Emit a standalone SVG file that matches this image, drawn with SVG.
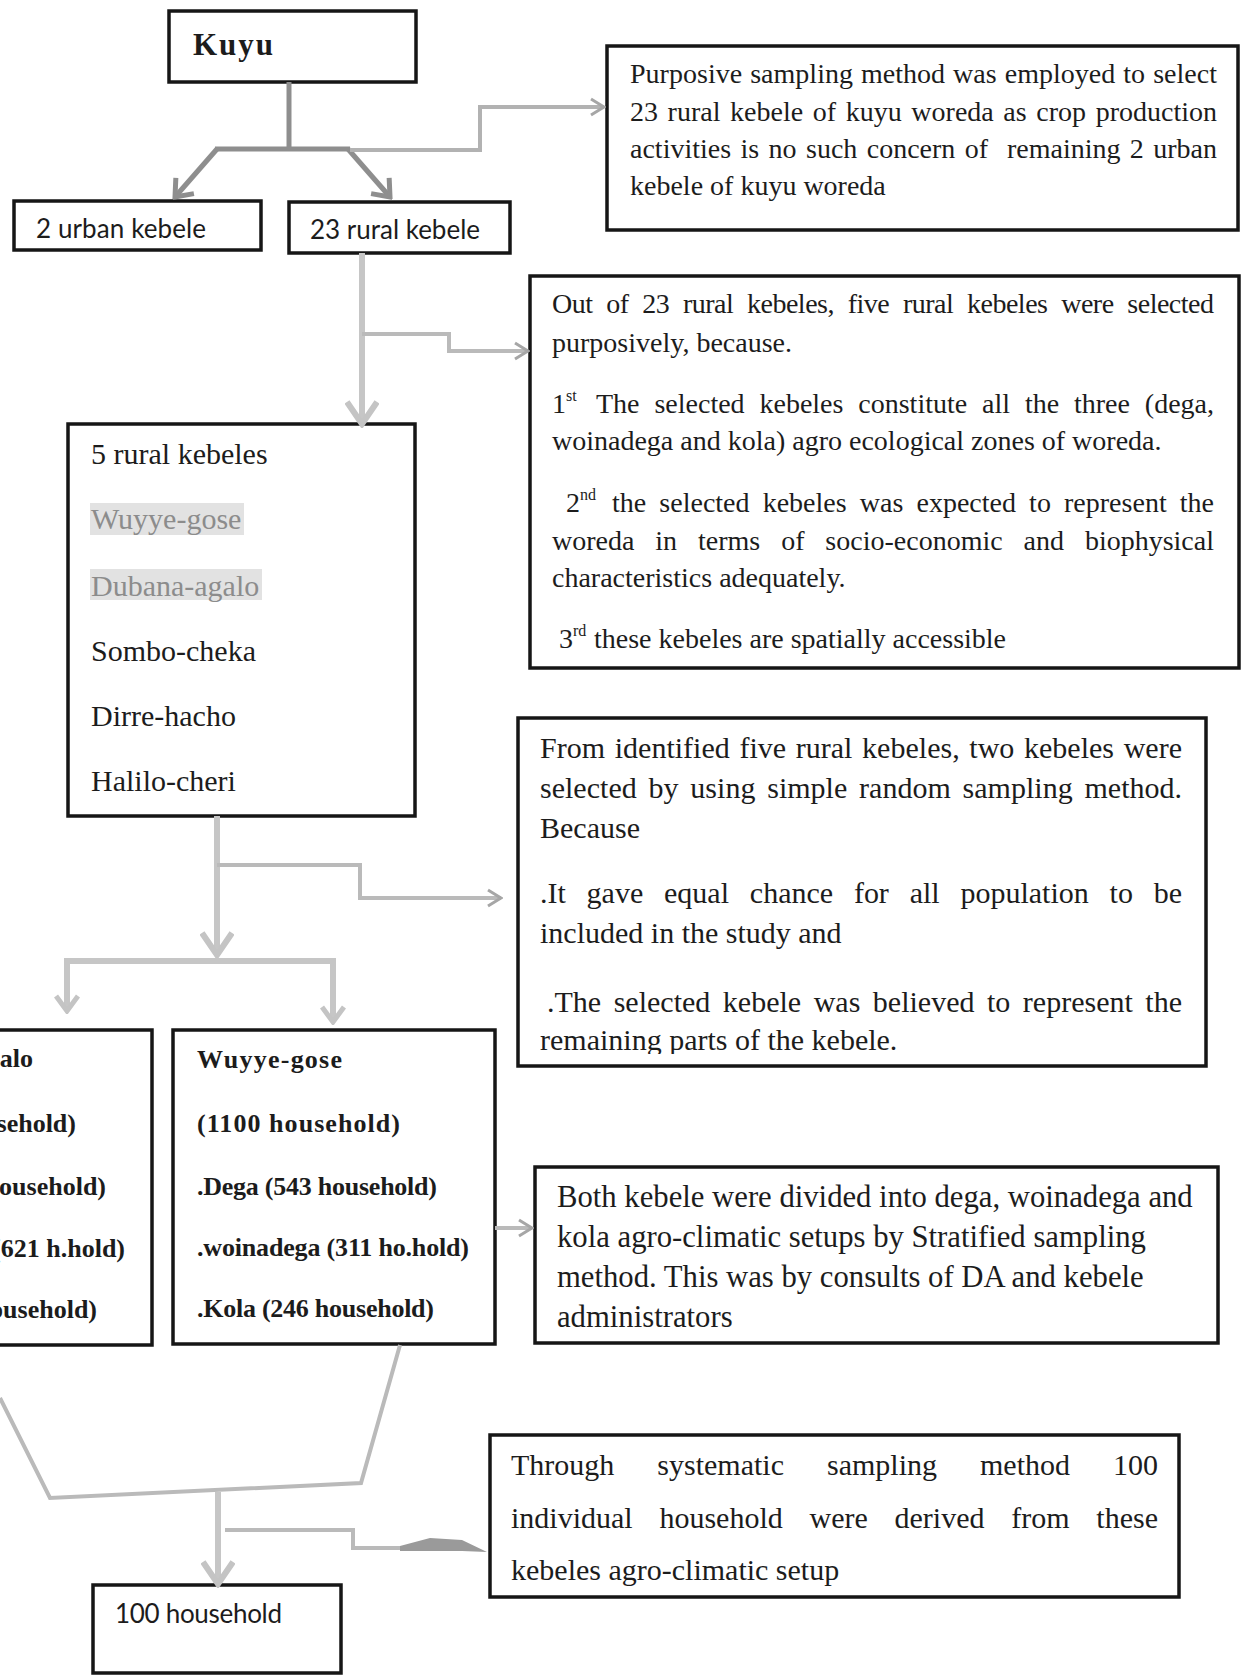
<svg xmlns="http://www.w3.org/2000/svg" width="1243" height="1678" viewBox="0 0 1243 1678">
<defs>
<style>
.box{fill:#fff;stroke:#161616;stroke-width:3.5}
.t{font-family:"Liberation Serif","Times New Roman",serif;fill:#1c1c1c}
.s28{font-size:28px}
.s30{font-size:30px}
.s307{font-size:30.7px}
.bd{font-weight:bold;font-size:26px}
.sans{font-family:Lato,"Liberation Sans",sans-serif;font-size:26px;fill:#1c1c1c}
.sup{font-size:16px}
.grey{fill:#8c8c8c}
.hl{fill:#e2e2e2}
.cd{fill:none;stroke:#8e8e8e;stroke-width:5}
.cm{fill:none;stroke:#b2b2b2;stroke-width:4}
.cl{fill:none;stroke:#c6c6c6;stroke-width:6}
.cs{fill:none;stroke:#bababa;stroke-width:4}
</style>
<marker id="chevL" viewBox="0 0 34 34" markerWidth="34" markerHeight="34" refX="30" refY="17" orient="auto" markerUnits="userSpaceOnUse">
<path d="M8,2 L30,17 L8,32" fill="none" stroke="#c4c4c4" stroke-width="6"/>
</marker>
<marker id="chevM" viewBox="0 0 24 26" markerWidth="24" markerHeight="26" refX="21" refY="13" orient="auto" markerUnits="userSpaceOnUse">
<path d="M6,2 L21,13 L6,24" fill="none" stroke="#c4c4c4" stroke-width="5"/>
</marker>
<marker id="chevS" viewBox="0 0 18 20" markerWidth="18" markerHeight="20" refX="16" refY="10" orient="auto" markerUnits="userSpaceOnUse">
<path d="M3,2 L16,10 L3,18" fill="none" stroke="#a6a6a6" stroke-width="3"/>
</marker>
<marker id="chevD" viewBox="0 0 22 28" markerWidth="22" markerHeight="28" refX="19" refY="14" orient="auto" markerUnits="userSpaceOnUse">
<path d="M4,2 L19,14 L4,26" fill="none" stroke="#8e8e8e" stroke-width="5"/>
</marker>
<clipPath id="clipFrom"><rect x="520" y="720" width="684" height="334"/></clipPath>
</defs>

<rect width="1243" height="1678" fill="#fff"/>

<g id="node-kuyu">
<rect class="box" x="169" y="11" width="247" height="71"/>
<text class="t" x="193" y="55" font-size="31" font-weight="bold" letter-spacing="2">Kuyu</text>
</g>

<g id="node-urban">
<rect class="box" x="14" y="201" width="247" height="49"/>
<text class="sans" x="36" y="238" textLength="170">2 urban kebele</text>
</g>

<g id="node-rural23">
<rect class="box" x="289" y="202" width="221" height="51"/>
<text class="sans" x="310" y="239" textLength="170">23 rural kebele</text>
</g>

<g id="node-purposive">
<rect class="box" x="607" y="46" width="631" height="184"/>
<text class="t s28" x="630" y="83" word-spacing="1" textLength="587">Purposive sampling method was employed to select</text>
<text class="t s28" x="630" y="121" word-spacing="2.6" textLength="587">23 rural kebele of kuyu woreda as crop production</text>
<text class="t s28" x="630" y="158" word-spacing="2.4" textLength="587" xml:space="preserve">activities is no such concern of  remaining 2 urban</text>
<text class="t s28" x="630" y="195">kebele of kuyu woreda</text>
</g>

<g id="node-outof23">
<rect class="box" x="530" y="276" width="709" height="392"/>
<text class="t s28" x="552" y="313" word-spacing="7.2" textLength="662">Out of 23 rural kebeles, five rural kebeles were selected</text>
<text class="t s28" x="552" y="352">purposively, because.</text>
<text class="t s28" x="552" y="413">1</text>
<text class="t sup" x="566" y="401">st</text>
<text class="t s28" x="596" y="413" word-spacing="7.9" textLength="618">The selected kebeles constitute all the three (dega,</text>
<text class="t s28" x="552" y="450">woinadega and kola) agro ecological zones of woreda.</text>
<text class="t s28" x="566" y="512">2</text>
<text class="t sup" x="580" y="500">nd</text>
<text class="t s28" x="612" y="512" word-spacing="6.1" textLength="602">the selected kebeles was expected to represent the</text>
<text class="t s28" x="552" y="550" word-spacing="13.9" textLength="662">woreda in terms of socio-economic and biophysical</text>
<text class="t s28" x="552" y="587">characteristics adequately.</text>
<text class="t s28" x="559" y="648">3</text>
<text class="t sup" x="573" y="636">rd</text>
<text class="t s28" x="594" y="648">these kebeles are spatially accessible</text>
</g>

<g id="node-rural5">
<rect class="box" x="68" y="424" width="347" height="392"/>
<rect class="hl" x="90" y="503" width="154" height="32"/>
<rect class="hl" x="90" y="569" width="172" height="31"/>
<text class="t s30" x="91" y="464">5 rural kebeles</text>
<text class="t s30 grey" x="91" y="529">Wuyye-gose</text>
<text class="t s30 grey" x="91" y="596">Dubana-agalo</text>
<text class="t s30" x="91" y="661">Sombo-cheka</text>
<text class="t s30" x="91" y="726">Dirre-hacho</text>
<text class="t s30" x="91" y="791">Halilo-cheri</text>
</g>

<g id="node-from">
<rect class="box" x="518" y="718" width="688" height="348"/>
<g clip-path="url(#clipFrom)">
<text class="t s30" x="540" y="758" word-spacing="2.1" textLength="642">From identified five rural kebeles, two kebeles were</text>
<text class="t s30" x="540" y="798" word-spacing="4.3" textLength="642">selected by using simple random sampling method.</text>
<text class="t s30" x="540" y="838">Because</text>
<text class="t s30" x="540" y="903" word-spacing="13.3" textLength="642">.It gave equal chance for all population to be</text>
<text class="t s30" x="540" y="943">included in the study and</text>
<text class="t s30" x="547" y="1012" word-spacing="5" textLength="635">.The selected kebele was believed to represent the</text>
<text class="t s30" x="540" y="1050">remaining parts of the kebele.</text>
</g>
</g>

<g id="node-dubana">
<rect class="box" x="-10" y="1030" width="162" height="315"/>
<text class="t bd" x="33" y="1067" text-anchor="end">alo</text>
<text class="t bd" x="76" y="1132" text-anchor="end">sehold)</text>
<text class="t bd" x="106" y="1195" text-anchor="end">ousehold)</text>
<text class="t bd" x="125" y="1257" text-anchor="end">(621 h.hold)</text>
<text class="t bd" x="97" y="1318" text-anchor="end">ousehold)</text>
</g>

<g id="node-wuyye">
<rect class="box" x="173" y="1030" width="322" height="314"/>
<text class="t bd" x="197" y="1068" textLength="145">Wuyye-gose</text>
<text class="t bd" x="197" y="1132" textLength="203">(1100 household)</text>
<text class="t bd" x="197" y="1195" textLength="240">.Dega (543 household)</text>
<text class="t bd" x="197" y="1256" textLength="272">.woinadega (311 ho.hold)</text>
<text class="t bd" x="197" y="1317" textLength="237">.Kola (246 household)</text>
</g>

<g id="node-both">
<rect class="box" x="535" y="1167" width="683" height="176"/>
<text class="t s307" x="557" y="1207">Both kebele were divided into dega, woinadega and</text>
<text class="t s307" x="557" y="1247">kola agro-climatic setups by Stratified sampling</text>
<text class="t s307" x="557" y="1287">method. This was by consults of DA and kebele</text>
<text class="t s307" x="557" y="1327">administrators</text>
</g>

<g id="node-systematic">
<rect class="box" x="490" y="1435" width="689" height="162"/>
<text class="t s30" x="511" y="1475" word-spacing="35.5" textLength="647">Through systematic sampling method 100</text>
<text class="t s30" x="511" y="1528" word-spacing="19.2" textLength="647">individual household were derived from these</text>
<text class="t s30" x="511" y="1580">kebeles agro-climatic setup</text>
</g>

<g id="node-100">
<rect class="box" x="93" y="1585" width="248" height="88"/>
<text class="sans" x="115" y="1623" textLength="167">100 household</text>
</g>

<g id="connectors">
<path class="cd" d="M289,82 V150"/>
<path class="cd" d="M215,149 H350"/>
<path class="cd" d="M217,149 L175,197" marker-end="url(#chevD)"/>
<path class="cd" d="M348,149 L390,197" marker-end="url(#chevD)"/>
<path class="cm" d="M350,150 H480 V107 H604" marker-end="url(#chevS)"/>

<path class="cl" d="M362,253 V424" marker-end="url(#chevL)"/>
<path class="cs" d="M362,334 H449 V351 H528" marker-end="url(#chevS)"/>

<path class="cl" d="M217,816 V955" marker-end="url(#chevL)"/>
<path class="cs" d="M217,865 H360 V898 H501" marker-end="url(#chevS)"/>
<path class="cl" d="M67,961 H334"/>
<path class="cl" d="M67,958 V1011" marker-end="url(#chevM)"/>
<path class="cl" d="M333,958 V1022" marker-end="url(#chevM)"/>

<path class="cs" d="M495,1228 H532" marker-end="url(#chevS)"/>

<path class="cs" d="M0,1398 L50,1498 L361,1483 L400,1345"/>
<path class="cl" d="M218,1492 V1584" marker-end="url(#chevL)"/>
<path class="cs" d="M225,1530 H353 V1548 H402"/>
<polygon points="400,1546 430,1538 462,1540 487,1552 462,1551 400,1551" fill="#9a9a9a"/>
</g>
</svg>
